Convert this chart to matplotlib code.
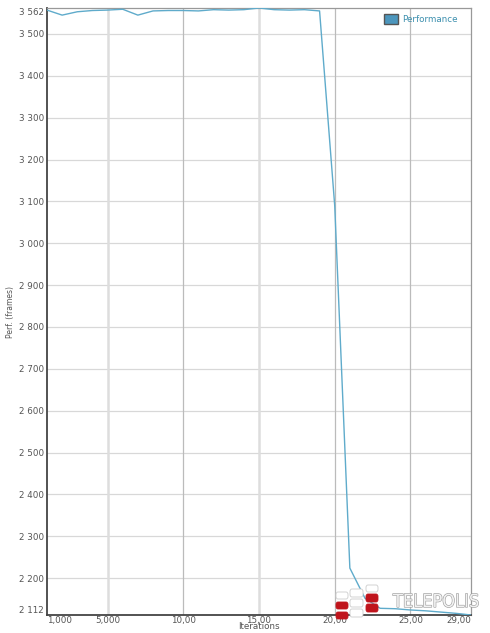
import matplotlib
matplotlib.use("Agg")
import matplotlib.pyplot as plt
from matplotlib.patches import FancyBboxPatch, Rectangle
import matplotlib.patheffects as pe

# data
iterations = list(range(1, 30))
perf = [3557, 3545, 3553, 3556, 3557, 3559, 3545, 3555, 3556, 3556,
        3555, 3558, 3557, 3558, 3562, 3558, 3557, 3558, 3555, 3090,
        2224, 2152, 2128, 2127, 2124, 2122, 2119, 2116, 2112]
x_ticks = [1, 5, 10, 15, 20, 25, 29]
x_tick_labels = ["1,000", "5,000", "10,00", "15,00", "20,00", "25,00", "29,00"]
y_ticks = [2112] + list(range(2200, 3501, 100)) + [3562]

W, H = 490, 633
fig = plt.figure(figsize=(W / 100, H / 100), dpi=100)
ax = fig.add_axes([47 / W, (H - 615) / H, (471 - 47) / W, (615 - 8) / H])

ax.plot(iterations, perf, color="#5fabcb", lw=1.0, label="Performance", zorder=3)

ax.set_xlim(1, 29)
ax.set_ylim(2112, 3562)

ax.set_xticks(x_ticks)
ax.set_xticklabels(x_tick_labels)
ax.set_yticks(y_ticks)
ax.set_yticklabels([f"{v:,}".replace(",", " ") for v in y_ticks])
ax.tick_params(length=0, labelsize=6.3, labelcolor="#555555", pad=2)
ax.tick_params(axis="x", pad=1)

xl = ax.get_xticklabels()
xl[0].set_ha("left")
xl[-1].set_ha("right")
yl = ax.get_yticklabels()
yl[0].set_va("bottom")
yl[-1].set_va("top")

# grid
for v in y_ticks[1:-1]:
    ax.axhline(v, color="#d8d8d8", lw=0.9, zorder=1)
for v in [5, 10, 15, 20, 25]:
    if v in (5, 15):
        ax.axvline(v, color="#dddddd", lw=1.8, zorder=1)
    else:
        ax.axvline(v, color="#bbbbbb", lw=0.9, zorder=1)

for s in ["left", "bottom"]:
    ax.spines[s].set_color("#444444")
    ax.spines[s].set_linewidth(1.3)
for s in ["top", "right"]:
    ax.spines[s].set_color("#999999")
    ax.spines[s].set_linewidth(0.9)

ax.set_ylabel("Perf. (frames)", fontsize=5.5, color="#555555", labelpad=3)
ax.set_xlabel("Iterations", fontsize=6.3, color="#555555", labelpad=-2.5)

# legend
fig.patches.append(Rectangle((384 / W, 1 - 24 / H), 14 / W, 10 / H,
                             transform=fig.transFigure, facecolor="#4c96bd",
                             edgecolor="#555555", lw=1.0))
fig.text(402 / W, 1 - 19 / H, "Performance", fontsize=6.3, color="#3c8fae",
         va="center", ha="left")

# watermark logo
def box(x0, y0, x1, y1, fc, ec):
    fig.patches.append(FancyBboxPatch((x0 / W, 1 - y1 / H), (x1 - x0) / W,
                                      (y1 - y0) / H, boxstyle="round,pad=0,rounding_size=0.004",
                                      transform=fig.transFigure, facecolor=fc,
                                      edgecolor=ec, lw=0.6, zorder=5))

red = "#c0141c"
for b in [(336, 602, 348, 609), (336, 612, 348, 619), (366, 594, 378, 602), (366, 604, 378, 612)]:
    box(*b, red, red)
for b in [(336, 592, 348, 599), (350, 589, 363, 597), (350, 599, 363, 607),
          (350, 609, 363, 617), (366, 585, 378, 592)]:
    box(*b, "white", "#cccccc")
t = fig.text(393 / W, 1 - 602 / H, "TELEPOLIS", fontsize=13, color="#f2f2f2",
             va="center", ha="left", zorder=6, fontstretch="condensed")
t.set_path_effects([pe.Stroke(linewidth=0.9, foreground="#a0a0a0"), pe.Normal()])

fig.savefig("out.png", dpi=100)
